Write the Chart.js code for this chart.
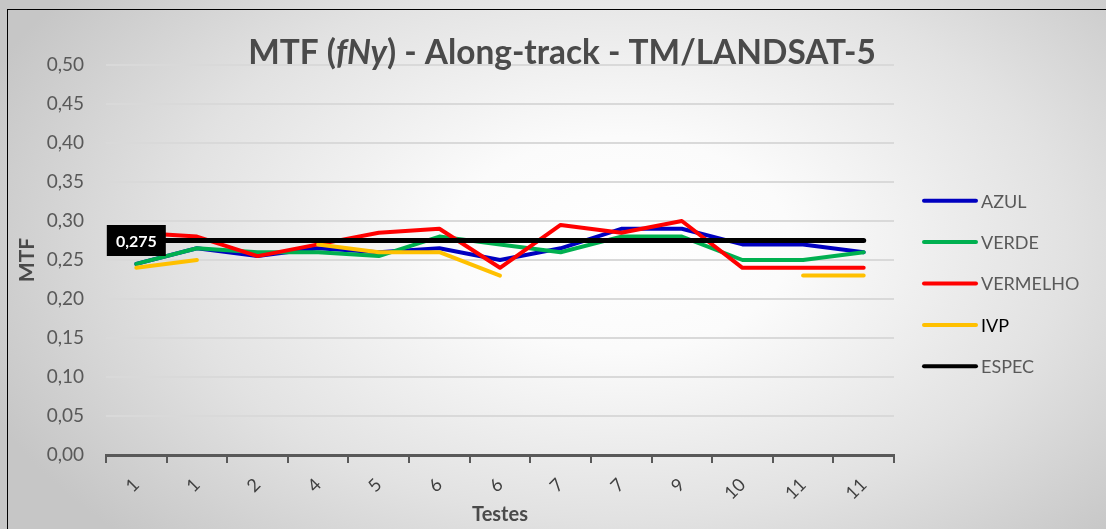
<!DOCTYPE html>
<html><head><meta charset="utf-8">
<script src="https://cdn.jsdelivr.net/npm/chart.js@4"></script>
<style>
html,body{margin:0;padding:0;width:1106px;height:529px;overflow:hidden;}
body{background: radial-gradient(ellipse 62% 80% at 56% 46%, #ffffff 0%, #fbfbfb 25%, #e2e2e2 65%, #c6c6c6 100%);}
#frame{position:absolute;left:7px;top:9px;width:1120px;height:540px;border:1.5px solid #000;box-sizing:border-box;}
#wrap{position:absolute;left:0;top:0;width:1106px;height:529px;}
</style></head><body>
<div id="frame"></div>
<div id="wrap"><canvas id="c" width="1106" height="529"></canvas></div>
<script>
const categories = ['1','1','2','4','5','6','6','7','7','9','10','11','11'];
const AZUL     = [0.245,0.265,0.255,0.265,0.260,0.265,0.250,0.265,0.290,0.290,0.270,0.270,0.260];
const VERDE    = [0.245,0.265,0.260,0.260,0.255,0.280,0.270,0.260,0.280,0.280,0.250,0.250,0.260];
const VERMELHO = [0.285,0.280,0.255,0.270,0.285,0.290,0.240,0.295,0.285,0.300,0.240,0.240,0.240];
const IVP      = [0.240,0.250,null,0.270,0.260,0.260,0.230,null,null,null,null,0.230,0.230];
const ESPEC    = [0.275,0.275,0.275,0.275,0.275,0.275,0.275,0.275,0.275,0.275,0.275,0.275,0.275];
const yTickLabels = ['0,00','0,05','0,10','0,15','0,20','0,25','0,30','0,35','0,40','0,45','0,50'];
const seriesNames = ['AZUL','VERDE','VERMELHO','IVP','ESPEC'];
const especLabel = '0,275';

const colors = ['#0000c0','#00b050','#ff0000','#ffc000','#000000'];
const values = [AZUL, VERDE, VERMELHO, IVP, ESPEC];

const datasets = seriesNames.map((n,i)=>({
  label:n, data:values[i], borderColor:colors[i], backgroundColor:colors[i],
  borderWidth: n==='ESPEC'?5:4, pointRadius:0, pointHoverRadius:0, tension:0,
  borderCapStyle:'round', borderJoinStyle:'round', spanGaps:false, fill:false,
  order: 5-i
}));

const deco = {
  id:'deco',
  afterDatasetsDraw(chart){
    const ctx = chart.ctx;
    const idx = chart.data.datasets.findIndex(d=>d.label==='ESPEC');
    const pt = chart.getDatasetMeta(idx).data[0];
    ctx.save();
    const w = 59, h = 31;
    ctx.fillStyle='#000';
    ctx.fillRect(pt.x - w/2, pt.y - h/2, w, h);
    ctx.font = 'bold 16px Lato';
    ctx.fillStyle='#fff'; ctx.textAlign='center'; ctx.textBaseline='middle';
    ctx.fillText(especLabel, pt.x, pt.y+1);
    ctx.restore();
  },
  afterDraw(chart){
    const ctx = chart.ctx;
    ctx.save();
    const parts = [['MTF (',''],['fNy','italic '],[') - Along-track - TM/LANDSAT-5','']];
    let size = 32;
    const meas = s => { let t=0; parts.forEach(p=>{ctx.font=p[1]+'bold '+s+'px Lato'; t+=ctx.measureText(p[0]).width;}); return t; };
    size = size*628/meas(size);
    const total = meas(size);
    let x = 562 - total/2;
    ctx.fillStyle='#4a4a4a'; ctx.textBaseline='middle'; ctx.textAlign='left';
    parts.forEach(p=>{ ctx.font=p[1]+'bold '+size+'px Lato'; ctx.fillText(p[0], x, 53); x += ctx.measureText(p[0]).width; });
    chart.data.datasets.forEach((d,i)=>{
      const y = 200.7 + i*41.4;
      ctx.strokeStyle = d.borderColor; ctx.lineWidth = 4; ctx.lineCap='round';
      ctx.beginPath(); ctx.moveTo(924,y); ctx.lineTo(976,y); ctx.stroke();
      ctx.font = '18px Lato'; ctx.fillStyle = d.label==='IVP' ? '#000' : '#595959';
      ctx.textBaseline='middle'; ctx.fillText(d.label, 981, y+1);
    });
    ctx.restore();
  }
};

new Chart(document.getElementById('c'), {
  type:'line',
  data:{ labels:categories, datasets },
  options:{
    responsive:false, animation:false,
    layout:{ padding:{ left:0, top:65, right:212, bottom:0 } },
    plugins:{ legend:{display:false}, tooltip:{enabled:false}, title:{display:false} },
    scales:{
      x:{
        offset:true,
        grid:{ display:true, drawOnChartArea:false, drawTicks:true, tickLength:8, offset:true, color:'#595959', lineWidth:2 },
        border:{ display:true, color:'#595959', width:3 },
        ticks:{ color:'#404040', font:{family:'Lato', size:18}, minRotation:45, maxRotation:45, padding:11, autoSkip:false },
        title:{ display:true, text:'Testes', color:'#4a4a4a', font:{family:'Lato', size:20, weight:'bold'}, padding:{top:0,bottom:2} },
        afterFit: s => { s.height = 74; }
      },
      y:{
        min:0, max:0.5,
        ticks:{ stepSize:0.05, callback:(v,i)=>yTickLabels[i], color:'#595959', font:{family:'Lato', size:19}, padding:22 },
        grid:{ color:'#d9d9d9', lineWidth:2, drawTicks:false },
        border:{ display:false },
        title:{ display:true, text:'MTF', color:'#4a4a4a', font:{family:'Lato', size:21, weight:'bold'}, padding:{top:15,bottom:0} },
        afterFit: s => { s.width = 106; }
      }
    }
  },
  plugins:[deco]
});
</script>
</body></html>
